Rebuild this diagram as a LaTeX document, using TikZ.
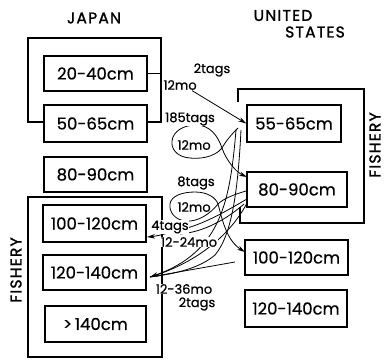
\documentclass[tikz,border=0pt]{standalone}
\usepackage{fontspec}
\setmainfont[FakeBold=0.6]{Poppins}
\newfontfamily\headfont[LetterSpace=8,FakeBold=1.5]{Poppins}
\usetikzlibrary{arrows.meta}
\pgfdeclarelayer{bg}
\pgfsetlayers{bg,main}
\begin{document}
\begin{tikzpicture}[x=1bp,y=-1bp,
  sizebox/.style={draw, line width=1.4pt, inner sep=0pt, font=\fontsize{16.5bp}{20bp}\selectfont},
  frame/.style={line width=1.1pt},
  lbl/.style={font=\fontsize{13bp}{14bp}\selectfont, inner sep=0.6pt, fill=white},
  looplbl/.style={font=\fontsize{13bp}{14bp}\selectfont, inner sep=0.6pt},
  head/.style={font=\headfont\fontsize{15.5bp}{17bp}\selectfont, inner sep=0pt},
  flow/.style={line width=0.8pt},
  arr/.style={flow, -{Stealth[length=8bp,width=4.5bp]}}]
\useasboundingbox (0,0) rectangle (385,361);

% headings
\node[head] (hjp) at (94,18) {JAPAN};
\node[head] (hun) at (283,15.5) {UNITED};
\node[head] (hst) at (315,32) {STATES};
\node[head, rotate=90] (fl) at (16,270) {FISHERY};
\node[head, rotate=90] (fr) at (375,145) {FISHERY};

% Japan boxes
\node[sizebox, minimum width=103bp, minimum height=35bp] (j1) at (95.5,73.5) {20-40cm};
\node[sizebox, minimum width=103bp, minimum height=37bp] (j2) at (95.5,123.5) {50-65cm};
\node[sizebox, minimum width=103bp, minimum height=35bp] (j3) at (95.5,174.5) {80-90cm};
\node[sizebox, minimum width=103bp, minimum height=37bp] (j4) at (94.5,223.5) {100-120cm};
\node[sizebox, minimum width=103bp, minimum height=35bp] (j5) at (94.5,272.5) {120-140cm};
\node[sizebox, minimum width=101bp, minimum height=36bp] (j6) at (95.5,324) {>\,140cm};

% US boxes
\node[sizebox, minimum width=94bp, minimum height=37bp] (u1) at (294,123.5) {55-65cm};
\node[sizebox, minimum width=100bp, minimum height=35bp] (u2) at (297,189.5) {80-90cm};
\node[sizebox, minimum width=103bp, minimum height=35bp] (u3) at (296.5,257.5) {100-120cm};
\node[sizebox, minimum width=102bp, minimum height=37bp] (u4) at (296,308.5) {120-140cm};

% frames
\draw[frame] (j2.west |- 0,122) -- (28,122) -- (28,38) -- (161,38) -- (161,122) -- (j2.east |- 0,122);
\draw[frame] (j1.east) -- (161,73.5);
\draw[frame] (28,197) rectangle (162,357);
\draw[frame] (238,102) -- (238,89) -- (364,89) -- (364,223) -- (240,223) -- (240,207);

% coordinates for connector ends
\coordinate (s1) at (238,128);
\coordinate (s2) at (236,130);
\coordinate (s3) at (241,130);
\coordinate (t2a) at (247,177);
\coordinate (s4) at (246,191);
\coordinate (s5) at (247,199);
\coordinate (s6) at (244,204);
\coordinate (s7) at (247,203);
\coordinate (s8) at (235,262);
\coordinate (t3) at (245,252);
\coordinate (tj4) at (147,237);
\coordinate (tj5) at (150,277);

% labels
\node[lbl] (l2t) at (212,70) {2tags};
\node[lbl] (l12a) at (180,85) {12mo};
\node[lbl] (l185) at (190,119) {185tags};
\node[looplbl] (e1) at (194,145) {12mo};
\node[lbl] (l8) at (196,183) {8tags};
\node[looplbl] (e2) at (194,207) {12mo};
\node[lbl] (l4) at (170,227) {4tags};
\node[lbl] (l1224) at (189,242) {12-24mo};
\node[lbl] (l1236) at (184,289) {12-36mo};
\node[lbl] (l2b) at (197,304) {2tags};

\begin{pgfonlayer}{bg}
% 12mo -> 55-65
\draw[arr] (l12a.-25) -- (u1.west);
% loop 1: 55-65 -> 80-90
\draw[arr] (s1) .. controls (230,136) and (226,141) .. (222,148)
  .. controls (214,158) and (198,159) .. (190,158)
  .. controls (176,157) and (171,148) .. (172,141)
  .. controls (173,131) and (184,125) .. (196,125)
  .. controls (210,125) and (218,136) .. (222,148)
  .. controls (226,160) and (236,172) .. (t2a);
% loop 2: 80-90 -> 100-120
\draw[arr] (s4) .. controls (236,194) and (224,198) .. (218,204)
  .. controls (210,214) and (198,222) .. (186,221)
  .. controls (174,220) and (169,211) .. (170,204)
  .. controls (171,196) and (182,192) .. (195,192)
  .. controls (208,192) and (216,198) .. (218,204)
  .. controls (222,218) and (226,240) .. (t3);
% to Japan 100-120
\draw[arr] (s5) .. controls (228,210) and (205,224) .. (180,230)
  .. controls (168,233) and (158,236) .. (tj4);
\draw[flow] (s6) .. controls (228,218) and (205,232) .. (180,234);
% to Japan 120-140
\draw[arr] (s2) .. controls (230,200) and (222,252) .. (tj5);
\draw[flow] (s3) .. controls (238,190) and (232,235) .. (215,255)
  .. controls (200,268) and (175,274) .. (tj5);
\draw[flow] (s7) .. controls (232,232) and (200,262) .. (tj5);
\draw[flow] (s8) -- (tj5);
\end{pgfonlayer}
\end{tikzpicture}
\end{document}
